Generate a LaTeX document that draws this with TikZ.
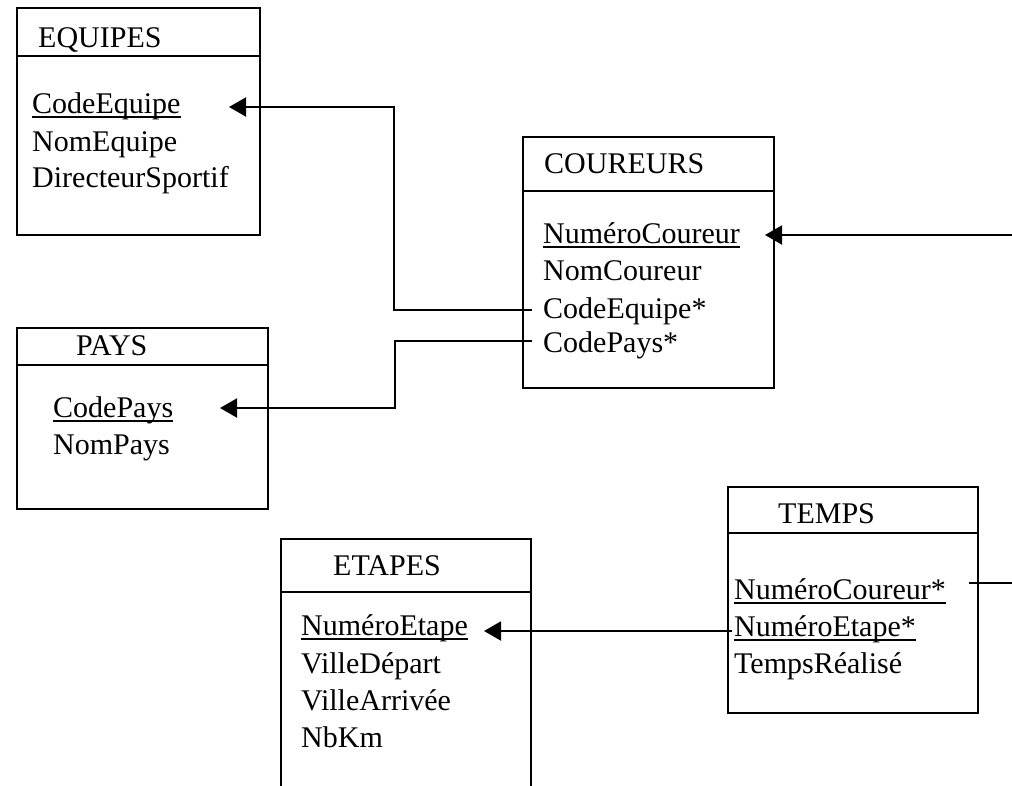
\documentclass[tikz,border=0pt]{standalone}
\usepackage{fontspec}
\setmainfont{Liberation Serif}
\usetikzlibrary{arrows.meta}
\begin{document}
\begin{tikzpicture}[x=1pt,y=-1pt,
  tbl/.style={draw, line width=2pt, anchor=north west, inner sep=0, rectangle},
  hdr/.style={line width=2pt},
  ttl/.style={anchor=base west, inner sep=0, font=\fontsize{30}{36}\selectfont},
  attr/.style={anchor=base west, inner sep=0, font=\fontsize{30}{36}\selectfont},
  ul/.style={line width=1.6pt},
  conn/.style={line width=2pt},
  fk/.style={line width=2pt, -{Triangle[length=17pt,width=19pt]}}]
\clip (0,0) rectangle (1012,785);
\fill[white] (0,0) rectangle (1012,785);

% EQUIPES
\node[tbl, minimum width=243pt, minimum height=227pt] (equipes) at (16,7) {};
\draw[hdr] (equipes.west |- 0,56) -- (equipes.east |- 0,56);
\node[ttl] (equipesT) at (38,47) {EQUIPES};
\node[attr] (eqCode) at (32,113) {CodeEquipe};
\node[attr] (eqNom) at (32,151) {NomEquipe};
\node[attr] (eqDir) at (32,187) {DirecteurSportif};
\draw[ul] ([yshift=-4pt]eqCode.base west) -- ([yshift=-4pt]eqCode.base east);

% COUREURS
\node[tbl, minimum width=251pt, minimum height=251pt] (coureurs) at (522,136) {};
\draw[hdr] (coureurs.west |- 0,191) -- (coureurs.east |- 0,191);
\node[ttl] (coureursT) at (544,173) {COUREURS};
\node[attr] (coNum) at (543,243) {NuméroCoureur};
\node[attr] (coNom) at (543,280) {NomCoureur};
\node[attr] (coEq) at (543,318) {CodeEquipe*};
\node[attr] (coPays) at (543,352) {CodePays*};
\draw[ul] ([yshift=-4pt]coNum.base west) -- ([yshift=-4pt]coNum.base east);

% PAYS
\node[tbl, minimum width=251pt, minimum height=181pt] (pays) at (16,327) {};
\draw[hdr] (pays.west |- 0,365) -- (pays.east |- 0,365);
\node[ttl] (paysT) at (76,355) {PAYS};
\node[attr] (paCode) at (53,417) {CodePays};
\node[attr] (paNom) at (53,454) {NomPays};
\draw[ul] ([yshift=-4pt]paCode.base west) -- ([yshift=-4pt]paCode.base east);

% ETAPES
\node[tbl, minimum width=250pt, minimum height=280pt] (etapes) at (280,538) {};
\draw[hdr] (etapes.west |- 0,592) -- (etapes.east |- 0,592);
\node[ttl] (etapesT) at (333,575) {ETAPES};
\node[attr] (etNum) at (301,635) {NuméroEtape};
\node[attr] (etDep) at (301,673) {VilleDépart};
\node[attr] (etArr) at (301,710) {VilleArrivée};
\node[attr] (etKm) at (301,747) {NbKm};
\draw[ul] ([yshift=-4pt]etNum.base west) -- ([yshift=-4pt]etNum.base east);

% TEMPS
\node[tbl, minimum width=250pt, minimum height=226pt] (temps) at (727,486) {};
\draw[hdr] (temps.west |- 0,533) -- (temps.east |- 0,533);
\node[ttl] (tempsT) at (778,523) {TEMPS};
\node[attr] (teCou) at (734,599) {NuméroCoureur*};
\node[attr] (teEt) at (734,636) {NuméroEtape*};
\node[attr] (teTps) at (734,673) {TempsRéalisé};
\draw[ul] ([yshift=-4pt]teCou.base west) -- ([yshift=-4pt]teCou.base east);
\draw[ul] ([yshift=-4pt]teEt.base west) -- ([yshift=-4pt]teEt.base east);

% connector end points
\coordinate (eqTip) at (229,107);
\coordinate (coEqStart) at (532,310);
\coordinate (paTip) at (220,408);
\coordinate (coPaysStart) at (532,341);
\coordinate (coNumTip) at (765,235);
\coordinate (edgeTop) at (1012,235);
\coordinate (teCouStart) at (969,583);
\coordinate (edgeBot) at (1012,583);
\coordinate (etTip) at (484,631);
\coordinate (teEtStart) at (732,631);

\draw[fk] (coEqStart) -- (394,310) -- (394,107) -- (eqTip);
\draw[fk] (coPaysStart) -- (395,341) -- (395,408) -- (paTip);
\draw[fk] (edgeTop) -- (coNumTip);
\draw[conn] (teCouStart) -- (edgeBot);
\draw[fk] (teEtStart) -- (etTip);
\end{tikzpicture}
\end{document}
